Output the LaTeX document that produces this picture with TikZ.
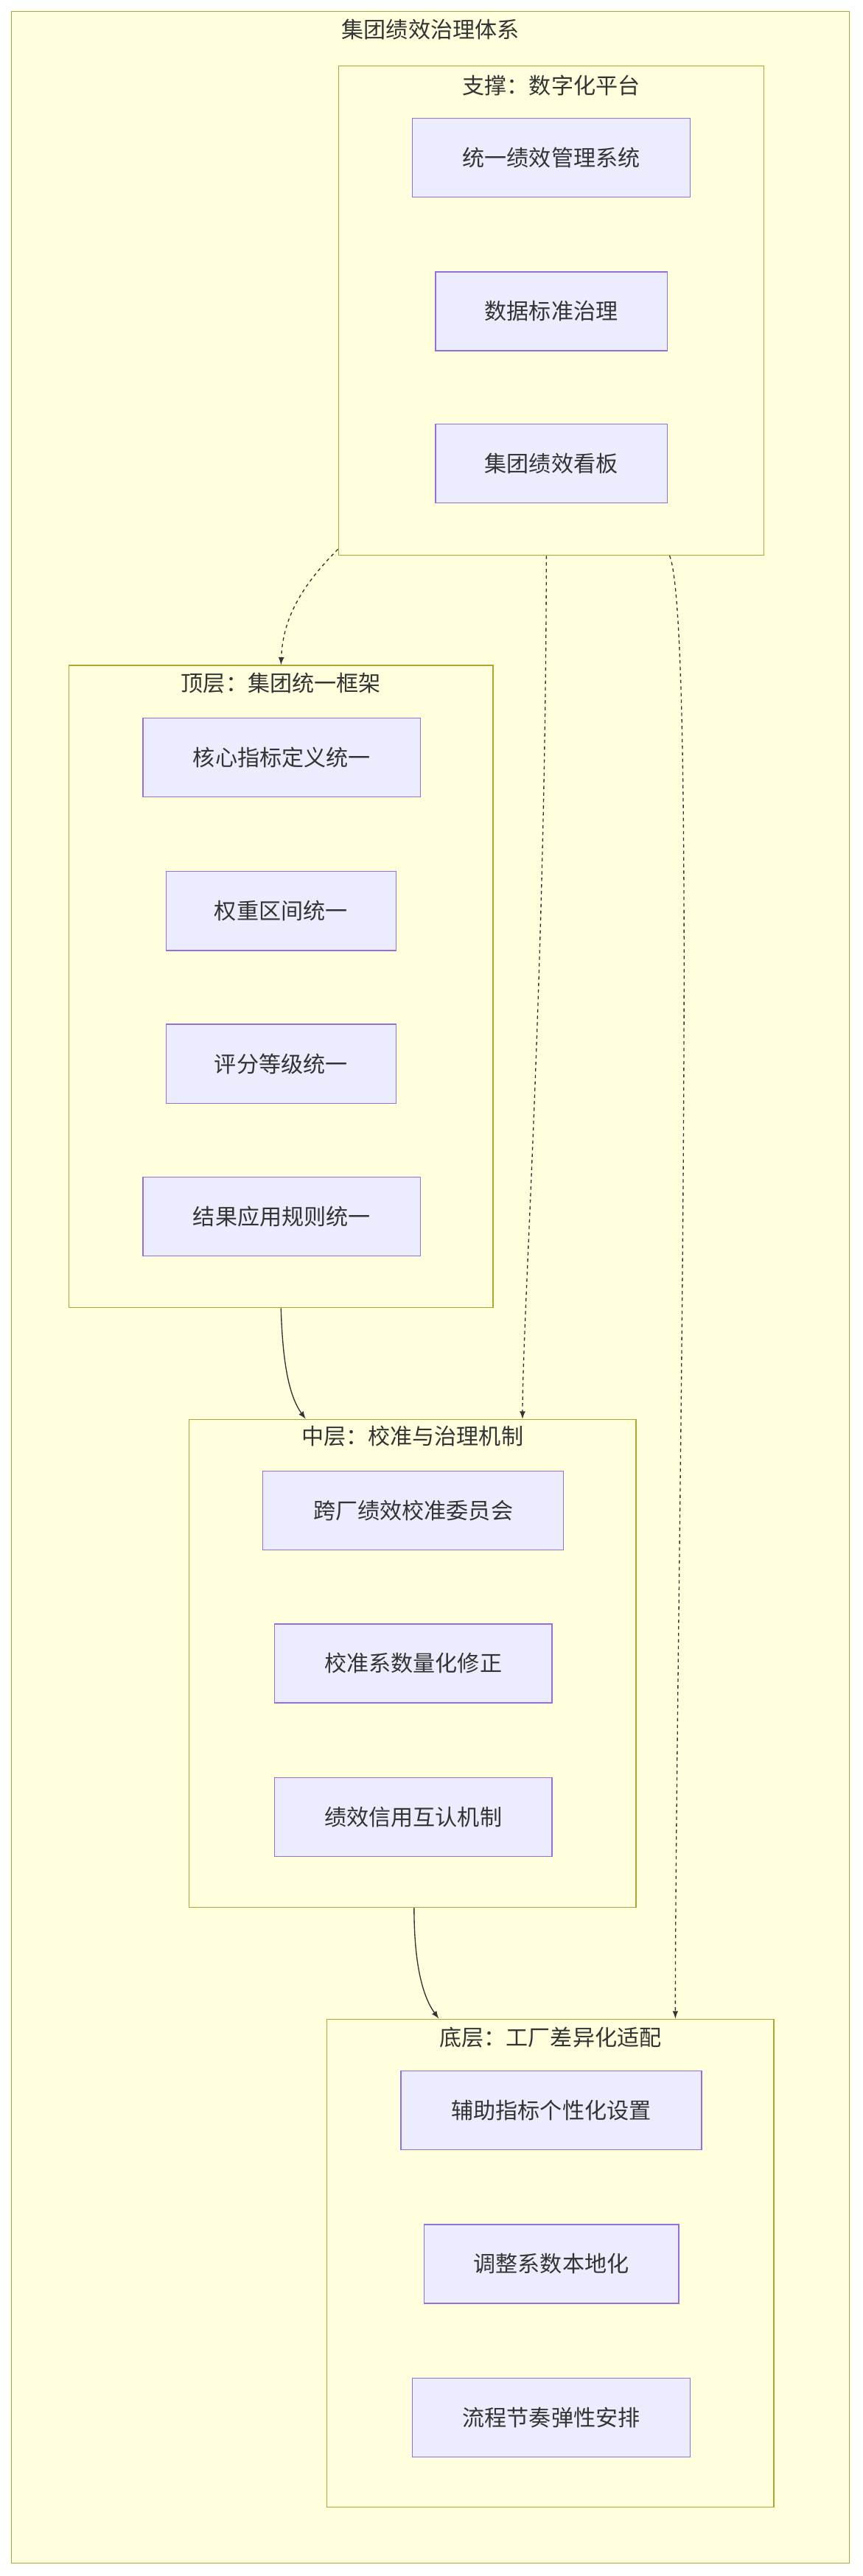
\documentclass[tikz,border=0pt]{standalone}
\usepackage{fontspec}
\setmainfont{Noto Sans CJK SC}
\usetikzlibrary{positioning,arrows}
\definecolor{clfill}{HTML}{FFFFDE}
\definecolor{clline}{HTML}{AAAA33}
\definecolor{ndfill}{HTML}{ECECFF}
\definecolor{ndline}{HTML}{9370DB}
\definecolor{edge}{HTML}{333333}
\begin{document}
\begin{tikzpicture}[x=1pt,y=-1pt,
cluster/.style={draw=clline, fill=clfill, rectangle, line width=0.6pt},
item/.style={draw=ndline, fill=ndfill, rectangle, line width=0.6pt, minimum height=48pt, font=\fontsize{13.5pt}{16pt}\selectfont, text=edge},
title/.style={font=\fontsize{13.5pt}{16pt}\selectfont, text=edge},
flow/.style={-latex, draw=edge, line width=0.6pt},
link/.style={flow, dash pattern=on 2pt off 2pt}
]
\useasboundingbox (0,0) rectangle (525,1568);
%% outer box
\node[cluster, minimum width=510pt, minimum height=1553pt] (group) at (262,783.5) {};
\node[title] (groupT) at (262,18) {集团绩效治理体系};

%% support: platform
\node[cluster, minimum width=259pt, minimum height=298pt] (support) at (335.5,189) {};
\node[title] (supportT) at (335.5,52) {支撑：数字化平台};
\node[item, minimum width=169pt] (sysA) at (335.5,96) {统一绩效管理系统};
\node[item, minimum width=141pt] (sysB) at (335.5,189.5) {数据标准治理};
\node[item, minimum width=141pt] (sysC) at (335.5,282) {集团绩效看板};

%% top layer
\node[cluster, minimum width=258pt, minimum height=391pt] (top) at (171,600.5) {};
\node[title] (topT) at (171,416) {顶层：集团统一框架};
\node[item, minimum width=169pt] (topA) at (171.5,461) {核心指标定义统一};
\node[item, minimum width=140pt] (topB) at (171,554.5) {权重区间统一};
\node[item, minimum width=140pt] (topC) at (171,647.5) {评分等级统一};
\node[item, minimum width=169pt] (topD) at (171.5,740.5) {结果应用规则统一};

%% middle layer
\node[cluster, minimum width=272pt, minimum height=297pt] (mid) at (251,1012.5) {};
\node[title] (midT) at (251,874) {中层：校准与治理机制};
\node[item, minimum width=183pt] (midA) at (251.5,919.5) {跨厂绩效校准委员会};
\node[item, minimum width=169pt] (midB) at (251.5,1012.5) {校准系数量化修正};
\node[item, minimum width=169pt] (midC) at (251.5,1106) {绩效信用互认机制};

%% bottom layer
\node[cluster, minimum width=272pt, minimum height=297pt] (bot) at (335,1377.5) {};
\node[title] (botT) at (335,1240) {底层：工厂差异化适配};
\node[item, minimum width=183pt] (botA) at (335.5,1284.5) {辅助指标个性化设置};
\node[item, minimum width=155pt] (botB) at (335.5,1378) {调整系数本地化};
\node[item, minimum width=169pt] (botC) at (335.5,1471.5) {流程节奏弹性安排};

%% links
\draw[link] ([yshift=4pt]support.south west) .. controls (180,360) and (172,380) .. (top.north);
\draw[link] ([xshift=-3pt]support.south) .. controls (332,600) and (318,800) .. ([xshift=67pt]mid.north);
\draw[link] ([xshift=72pt]support.south) .. controls (425,380) and (411,1000) .. ([xshift=76pt]bot.north);
\draw[flow] (top.south) .. controls (172,830) and (176,850) .. ([xshift=-65pt]mid.north);
\draw[flow] ([xshift=1pt]mid.south) .. controls (252,1195) and (257,1215) .. ([xshift=-68pt]bot.north);
\end{tikzpicture}
\end{document}
